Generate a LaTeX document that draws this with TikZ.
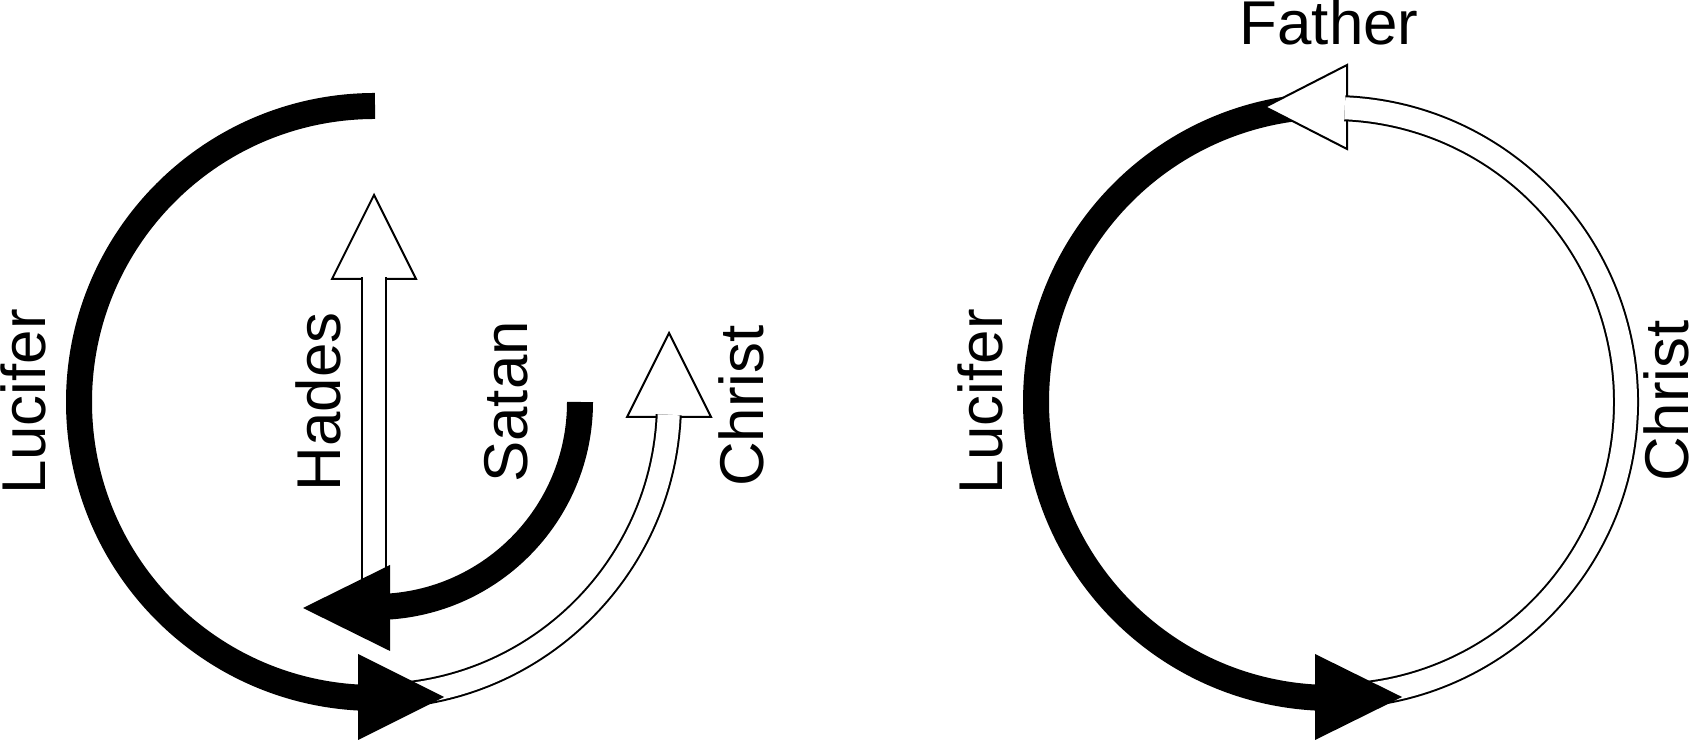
\documentclass[tikz,border=0pt]{standalone}
\usepackage{fontspec}
\setmainfont{Liberation Sans}

\tikzset{
	heavy/.style={line width=2.6mm},
	hollow/.style={line width=0.2mm, double=white, double distance=2.2mm},
	openhead/.style={draw, fill=white, line width=0.2mm},
	word/.style={inner sep=0pt, font=\fontsize{17.6}{21}\selectfont},
}

\begin{document}
\begin{tikzpicture}[x=0.1mm, y=0.1mm]
		\useasboundingbox (0,0) rectangle (1700,742);
		\coordinate (lc) at (375,340);
		\coordinate (rc) at (1332,340);
		% left circle: Christ
		\filldraw[openhead] (627,325) -- (669,409) -- (711,325) -- cycle;
		\draw[hollow] ([shift={(-90:294)}]lc) arc[start angle=-90, end angle=-2.5, radius=294];
		% Hades
		\filldraw[openhead] (332,463) -- (374,547) -- (416,463) -- cycle;
		\draw[hollow] (374,130) -- (374,465);
		% Lucifer
		\draw[heavy] ([shift={(90:296)}]lc) arc[start angle=90, end angle=270, radius=296];
		\fill (358,88) -- (444,45) -- (358,2) -- cycle;
		% Satan
		\draw[heavy] ([shift={(0:205)}]lc) arc[start angle=0, end angle=-90, radius=205];
		\fill (390,177) -- (303,134) -- (390,91) -- cycle;
		% right circle: Lucifer, Christ
		\draw[heavy] ([shift={(90:296)}]rc) arc[start angle=90, end angle=270, radius=296];
		\filldraw[openhead] (1347,677) -- (1265,635) -- (1347,593) -- cycle;
		\draw[hollow] ([shift={(-90:294)}]rc) arc[start angle=-90, end angle=87.5, radius=294];
		\fill (1315,88) -- (1402,45) -- (1315,2) -- cycle;
		% names
		\node[word, rotate=90, anchor=base] (lucL) at (45,340) {Lucifer};
		\node[word, rotate=90, anchor=base] (hades) at (340,340) {Hades};
		\node[word, rotate=90, anchor=base] (satan) at (527,340) {Satan};
		\node[word, rotate=90, anchor=base] (chrL) at (763,336) {Christ};
		\node[word, rotate=90, anchor=base] (lucR) at (1002,340) {Lucifer};
		\node[word, rotate=90, anchor=base] (chrR) at (1688,341) {Christ};
		\node[word, anchor=base] (father) at (1329,697) {Father};
\end{tikzpicture}
\end{document}
